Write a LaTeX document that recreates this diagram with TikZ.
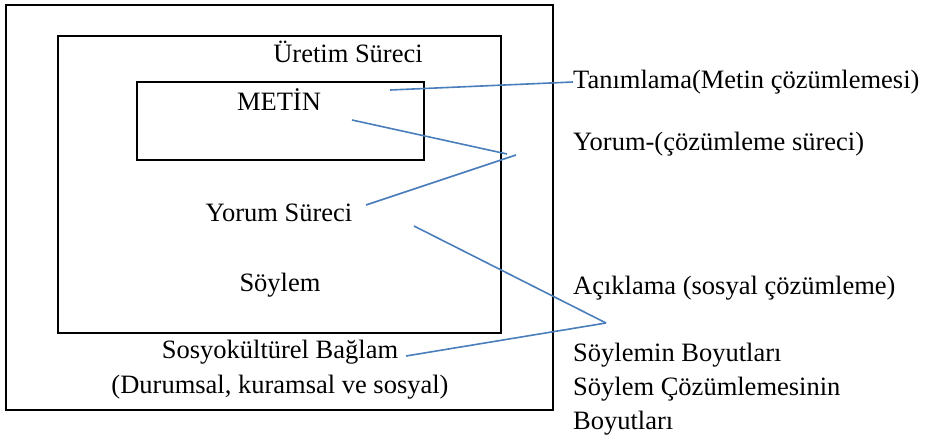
\documentclass[tikz,border=0pt]{standalone}
\usepackage{fontspec}
\setmainfont{Liberation Serif}
\definecolor{linkblue}{HTML}{4A7EBB}

\begin{document}
\begin{tikzpicture}[
    x=1pt, y=-1pt,
    frame/.style={rectangle, draw, line width=1.8pt, inner sep=0pt},
    link/.style={draw=linkblue, line width=1.6pt},
    txt/.style={inner sep=0pt, font=\fontsize{26.5}{32}\selectfont},
    side/.style={txt, anchor=west}
]
\useasboundingbox (0,0) rectangle (927,440);

% Boxes
\node[frame, minimum width=547pt, minimum height=405pt] (baglam) at (279.5,207.5) {};
\node[frame, minimum width=443pt, minimum height=297pt] (soylem) at (279.5,184.5) {};
\node[frame, minimum width=287pt, minimum height=78pt] (metin) at (280.5,121) {};

% Texts inside
\node[txt] (uretim) at (348,52) {Üretim Süreci};
\node[txt] (metinT) at (279,100) {METİN};
\node[txt] (yorum) at (279,213) {Yorum Süreci};
\node[txt] (soylemT) at (280,285) {Söylem};
\node[txt] (sosyo) at (280,352) {Sosyokültürel Bağlam};
\node[txt] (durum) at (280,387) {(Durumsal, kuramsal ve sosyal)};

% Texts on the right
\node[side] (tanim) at (573,82) {Tanımlama(Metin çözümlemesi)};
\node[side] (yorumR) at (573,144) {Yorum-(çözümleme süreci)};
\node[side] (aciklama) at (573,288) {Açıklama (sosyal çözümleme)};
\node[side] (boyut) at (573,355) {Söylemin Boyutları};
\node[side] (cozum) at (573,389) {Söylem Çözümlemesinin};
\node[side] (boyut2) at (573,423) {Boyutları};

% Points of the lines
\coordinate (tanimPt) at (390,90);
\coordinate (metinPt) at (352,120);
\coordinate (yorumTip) at (507,154);
\coordinate (yorumTip2) at (516,155);
\coordinate (yorumPt) at (366,205);
\coordinate (soylemPt) at (414,226);
\coordinate (sosyoPt) at (406,356);
\coordinate (aciklamaPt) at (606,323);

% Lines
\draw[link] (tanimPt) -- (tanim.west);
\draw[link] (metinPt) -- (yorumTip);
\draw[link] (yorumPt) -- (yorumTip2);
\draw[link] (soylemPt) -- (aciklamaPt);
\draw[link] (sosyoPt) -- (aciklamaPt);

\end{tikzpicture}
\end{document}
